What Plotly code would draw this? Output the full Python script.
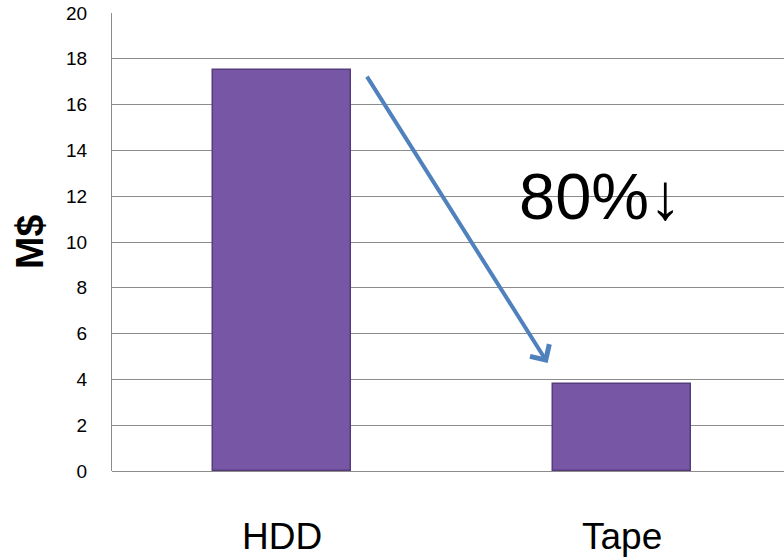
import plotly.graph_objects as go

categories = ["HDD", "Tape"]
values = [17.5, 3.8]
y_ticks = [0, 2, 4, 6, 8, 10, 12, 14, 16, 18, 20]
y_title = "M$"
callout_text = "80%↓"

fig = go.Figure()
fig.add_trace(go.Bar(
    x=categories,
    y=values,
    width=0.406,
    marker=dict(color="#7757a5", line=dict(color="#563c7c", width=1.5)),
))

# arrow from HDD bar top toward Tape bar
fig.add_annotation(
    x=0.781, y=4.72, ax=0.247, ay=17.29,
    xref="x", yref="y", axref="x", ayref="y",
    text="", showarrow=True, arrowhead=4, arrowsize=1.1,
    arrowwidth=4, arrowcolor="#4f81bd",
)
fig.add_annotation(
    x=0.935, y=12.0, xref="x", yref="y",
    text=callout_text, showarrow=False,
    font=dict(family="Liberation Sans", size=65, color="#000000"),
    xanchor="center", yanchor="middle",
)

fig.update_layout(
    width=784, height=560,
    margin=dict(l=112, r=0, t=13, b=89),
    paper_bgcolor="white", plot_bgcolor="white",
    showlegend=False,
    bargap=0,
)
fig.update_xaxes(
    type="category",
    range=[-0.5, 1.476],
    showgrid=False,
    showline=False,
    ticks="",
    ticklabelstandoff=40,
    tickfont=dict(family="Liberation Sans", size=37, color="#000000"),
)
fig.update_yaxes(
    range=[0, 20],
    tickvals=y_ticks,
    showgrid=True, gridcolor="#8c8c8c", gridwidth=1,
    showline=True, linecolor="#8c8c8c", linewidth=1,
    zeroline=True, zerolinecolor="#8c8c8c", zerolinewidth=1,
    ticks="",
    ticklabelstandoff=20,
    tickfont=dict(family="Liberation Sans", size=19, color="#000000"),
    title=dict(text=y_title, standoff=10,
               font=dict(family="Liberation Sans", size=39, color="#000000", weight="bold")),
)

fig.write_html("out.html")
